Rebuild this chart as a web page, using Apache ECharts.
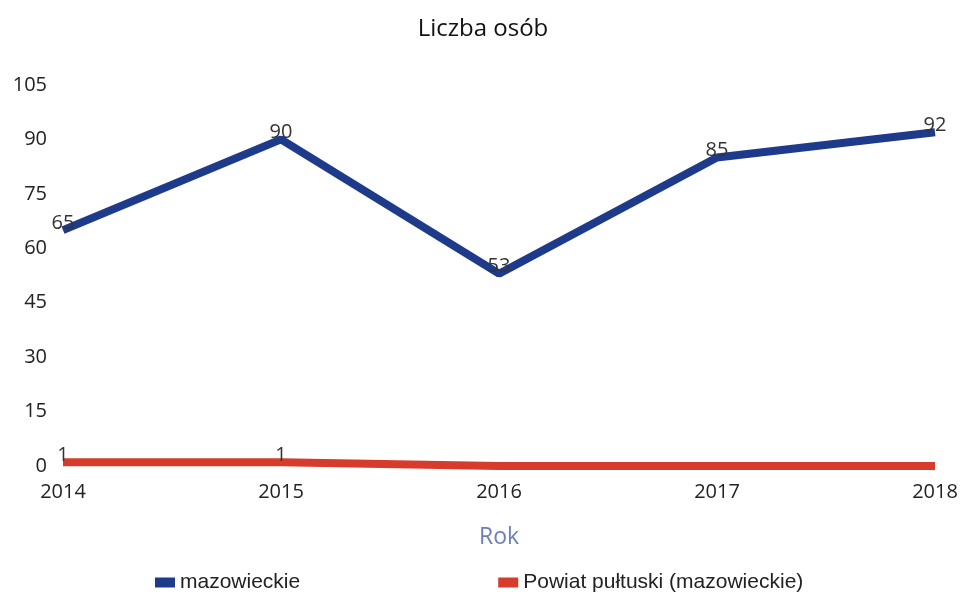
<!DOCTYPE html>
<html>
<head>
<meta charset="utf-8">
<script src="https://cdn.jsdelivr.net/npm/echarts@6/dist/echarts.min.js"></script>
<style>
  html, body { margin: 0; padding: 0; background: #fff; }
  #chart { width: 966px; height: 592px; }
</style>
</head>
<body>
<div id="chart"></div>
<script>
var years = ['2014', '2015', '2016', '2017', '2018'];
var mazowieckie = [65, 90, 53, 85, 92];
var pultuski = [1, 1, 0, 0, 0];
var yTicks = [0, 15, 30, 45, 60, 75, 90, 105];

var chart = echarts.init(document.getElementById('chart'));

var labelStyle = {
    show: true,
    position: 'top',
    distance: -3,
    color: '#333',
    fontSize: 20,
    fontFamily: 'Open Sans',
    formatter: function (p) { return p.value === 0 ? '' : p.value; }
};

chart.setOption({
    animation: false,
    title: {
        text: 'Liczba osób',
        left: 'center',
        top: 12,
        textStyle: { fontSize: 24, fontWeight: 'normal', color: '#111', fontFamily: 'Open Sans' }
    },
    legend: {
        left: 150,
        top: 567,
        itemWidth: 20,
        itemHeight: 10,
        itemGap: 198,
        icon: 'rect',
        textStyle: { fontSize: 21, color: '#222', fontFamily: 'Liberation Sans' },
        data: ['mazowieckie', 'Powiat pułtuski (mazowieckie)']
    },
    grid: { left: 63, right: 31, top: 85, bottom: 126 },
    xAxis: {
        type: 'category',
        data: years,
        boundaryGap: false,
        name: 'Rok',
        nameLocation: 'middle',
        nameGap: 60,
        nameTextStyle: { fontSize: 23, color: '#6b7fb8', fontFamily: 'Open Sans' },
        axisLine: { show: false },
        axisTick: { show: false },
        axisLabel: { fontSize: 20, color: '#222', margin: 16, fontFamily: 'Open Sans' }
    },
    yAxis: {
        type: 'value',
        min: yTicks[0],
        max: yTicks[yTicks.length - 1],
        interval: 15,
        splitLine: { show: false },
        axisLine: { show: false },
        axisTick: { show: false },
        axisLabel: { fontSize: 20, color: '#222', margin: 16, fontFamily: 'Open Sans' }
    },
    series: [
        {
            name: 'mazowieckie',
            type: 'line',
            data: mazowieckie,
            symbol: 'circle',
            symbolSize: 0,
            color: '#1e3a8a',
            lineStyle: { width: 8, color: '#1e3a8a' },
            label: labelStyle
        },
        {
            name: 'Powiat pułtuski (mazowieckie)',
            type: 'line',
            data: pultuski,
            symbol: 'circle',
            symbolSize: 0,
            color: '#d63b2c',
            lineStyle: { width: 8, color: '#d63b2c' },
            label: labelStyle
        }
    ]
});
</script>
</body>
</html>
